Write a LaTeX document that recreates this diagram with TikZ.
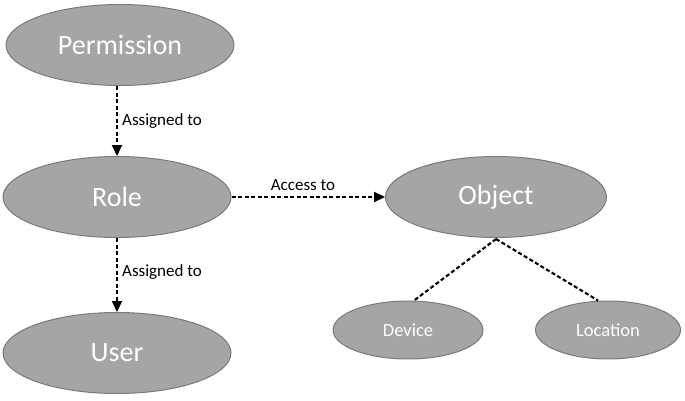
\documentclass[tikz,border=0pt]{standalone}
\usepackage{fontspec}
\setmainfont{Carlito}
\usetikzlibrary{shapes.geometric,arrows.meta}
\definecolor{ellfill}{HTML}{A5A5A5}
\definecolor{ellline}{HTML}{7A7A7A}
\tikzset{
  ent/.style={ellipse, draw=ellline, line width=1pt, fill=ellfill, text=white, inner sep=0pt},
  big/.style={ent, minimum width=228pt, minimum height=81pt, font=\fontsize{28}{32}\selectfont},
  small/.style={ent, minimum width=150pt, minimum height=58pt, font=\fontsize{18.5}{22}\selectfont},
  link/.style={line width=2.1pt, dash pattern=on 4pt off 2.5pt},
  arr/.style={link, -{Triangle[width=10pt,length=11pt]}},
  lbl/.style={font=\fontsize{17}{20}\selectfont, text=black, inner sep=2pt}
}
\begin{document}
\begin{tikzpicture}[x=1pt,y=1pt]
\useasboundingbox (0,0) rectangle (685,400);
\node[big] (perm) at (120,355) {Permission};
\node[big] (role) at (117,203) {Role};
\node[big] (user) at (117,47) {User};
\node[big, minimum width=221pt] (obj) at (496,203) {Object};
\node[small] (dev) at (408,70) {Device};
\node[small, minimum width=145pt] (loc) at (608,70) {Location};
\draw[arr] (perm.south -| role.north) -- (role.north);
\draw[arr] (role.south) -- (user.north);
\draw[arr] (role.east) -- (obj.west);
\coordinate (ob) at (496,161);
\draw[link] (ob) -- ([xshift=6pt]dev.north);
\draw[link] (ob) -- ([xshift=-10pt]loc.north);
\node[lbl, anchor=west] at (120,279) {Assigned to};
\node[lbl, anchor=west] at (120,128) {Assigned to};
\node[lbl, anchor=south] at (303,207) {Access to};
\end{tikzpicture}
\end{document}
